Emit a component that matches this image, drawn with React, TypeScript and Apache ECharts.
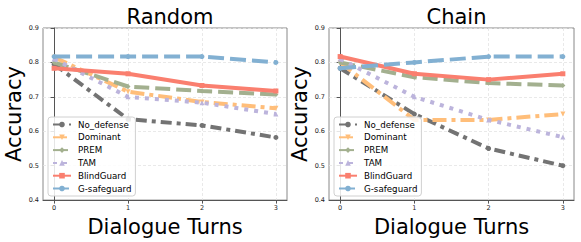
import React, { useEffect, useRef } from "react";
import * as echarts from "echarts";

const turns = [0, 1, 2, 3];
const yTicks = [0.4, 0.5, 0.6, 0.7, 0.8, 0.9];
const methods = ["No_defense", "Dominant", "PREM", "TAM", "BlindGuard", "G-safeguard"];
const panelTitles = ["Random", "Chain"];

const randomNoDefense = [0.795, 0.635, 0.617, 0.582];
const randomDominant = [0.815, 0.715, 0.685, 0.667];
const randomPREM = [0.8, 0.73, 0.717, 0.707];
const randomTAM = [0.81, 0.7, 0.683, 0.65];
const randomBlindGuard = [0.783, 0.767, 0.733, 0.717];
const randomGSafeguard = [0.817, 0.817, 0.817, 0.8];

const chainNoDefense = [0.783, 0.65, 0.55, 0.5];
const chainDominant = [0.8, 0.633, 0.633, 0.65];
const chainPREM = [0.8, 0.757, 0.74, 0.733];
const chainTAM = [0.81, 0.7, 0.633, 0.583];
const chainBlindGuard = [0.817, 0.767, 0.75, 0.767];
const chainGSafeguard = [0.783, 0.8, 0.817, 0.817];

const panelData = [
  [randomNoDefense, randomDominant, randomPREM, randomTAM, randomBlindGuard, randomGSafeguard],
  [chainNoDefense, chainDominant, chainPREM, chainTAM, chainBlindGuard, chainGSafeguard],
];

const styles = [
  { color: "#737373", dash: [11, 5, 4, 5], symbol: "circle", rotate: 0 },
  { color: "#ffbe7a", dash: [14, 5, 4, 5], symbol: "triangle", rotate: 180 },
  { color: "#a3b08f", dash: [15, 6], symbol: "diamond", rotate: 0 },
  { color: "#bcb4dc", dash: [4, 6], symbol: "triangle", rotate: 0 },
  { color: "#fa7f6f", dash: "solid", symbol: "rect", rotate: 0 },
  { color: "#82b0d2", dash: [16, 6], symbol: "circle", rotate: 0 },
];

const FONT = "DejaVu Sans";

export default function App() {
  const ref = useRef<HTMLDivElement>(null);
  useEffect(() => {
    if (!ref.current) return;
    const chart = echarts.init(ref.current, null, { renderer: "svg" });
    const grids = [
      { left: 43, top: 28, width: 244, height: 174 },
      { left: 329, top: 28, width: 245, height: 174 },
    ];
    const series: any[] = [];
    panelData.forEach((panel, p) => {
      panel.forEach((vals, i) => {
        const s = styles[i];
        series.push({
          name: methods[i],
          type: "line",
          xAxisIndex: p,
          yAxisIndex: p,
          data: turns.map((t, k) => [t, vals[k]]),
          symbol: s.symbol,
          symbolSize: 5,
          symbolRotate: s.rotate,
          showSymbol: true,
          lineStyle: { color: s.color, width: 4, type: s.dash, cap: "butt" },
          itemStyle: { color: s.color },
          z: 2 + i,
        });
      });
    });
    chart.setOption({
      animation: false,
      title: panelTitles.map((t, p) => ({
        text: t,
        left: grids[p].left + grids[p].width / 2,
        textAlign: "center",
        top: 1,
        textStyle: { fontFamily: FONT, fontSize: 21, fontWeight: "normal", color: "#000" },
      })),
      grid: grids.map((g) => ({ ...g, show: true, borderColor: "#888", borderWidth: 1 })),
      legend: grids.map((g) => ({
        data: methods,
        orient: "vertical",
        left: g.left + 5,
        top: 117,
        itemWidth: 18,
        itemHeight: 7,
        itemGap: 3.8,
        padding: [3, 4, 3, 4],
        backgroundColor: "rgba(255,255,255,0.85)",
        borderColor: "#d0d0d0",
        borderWidth: 1,
        borderRadius: 3,
        textStyle: { fontFamily: FONT, fontSize: 8.7, color: "#000", padding: [0, 0, 0, 2] },
        selectedMode: false,
      })),
      xAxis: grids.map((_, p) => ({
        type: "value",
        gridIndex: p,
        min: -0.15,
        max: 3.15,
        name: "Dialogue Turns",
        nameLocation: "middle",
        nameGap: 11,
        nameTextStyle: { fontFamily: FONT, fontSize: 21, color: "#000", verticalAlign: "top" },
        axisLine: { show: true, lineStyle: { color: "#555", width: 1 } },
        axisTick: { show: true, length: 3.5, customValues: turns, lineStyle: { color: "#555" } },
        axisLabel: {
          customValues: turns,
          fontFamily: FONT,
          fontSize: 6.5,
          color: "#222",
          margin: 4,
          formatter: (v: number) => String(v),
        },
        splitLine: { show: true, lineStyle: { color: "#e3e3e3", type: [3, 2], width: 0.8 } },
      })),
      yAxis: grids.map((_, p) => ({
        type: "value",
        gridIndex: p,
        min: yTicks[0],
        max: yTicks[yTicks.length - 1],
        interval: 0.1,
        name: "Accuracy",
        nameLocation: "middle",
        nameGap: 18,
        nameTextStyle: { fontFamily: FONT, fontSize: 21, color: "#000" },
        axisLine: { show: true, lineStyle: { color: "#555", width: 1 } },
        axisTick: { show: true, length: 3.5, lineStyle: { color: "#555" } },
        axisLabel: {
          fontFamily: FONT,
          fontSize: 6.5,
          color: "#222",
          margin: 4,
          formatter: (v: number) => v.toFixed(1),
        },
        splitLine: { show: true, lineStyle: { color: "#e3e3e3", type: [3, 2], width: 0.8 } },
      })),
      series,
    });
    return () => chart.dispose();
  }, []);
  return <div ref={ref} style={{ width: 581, height: 242, position: "absolute", left: 0, top: 0 }} />;
}
